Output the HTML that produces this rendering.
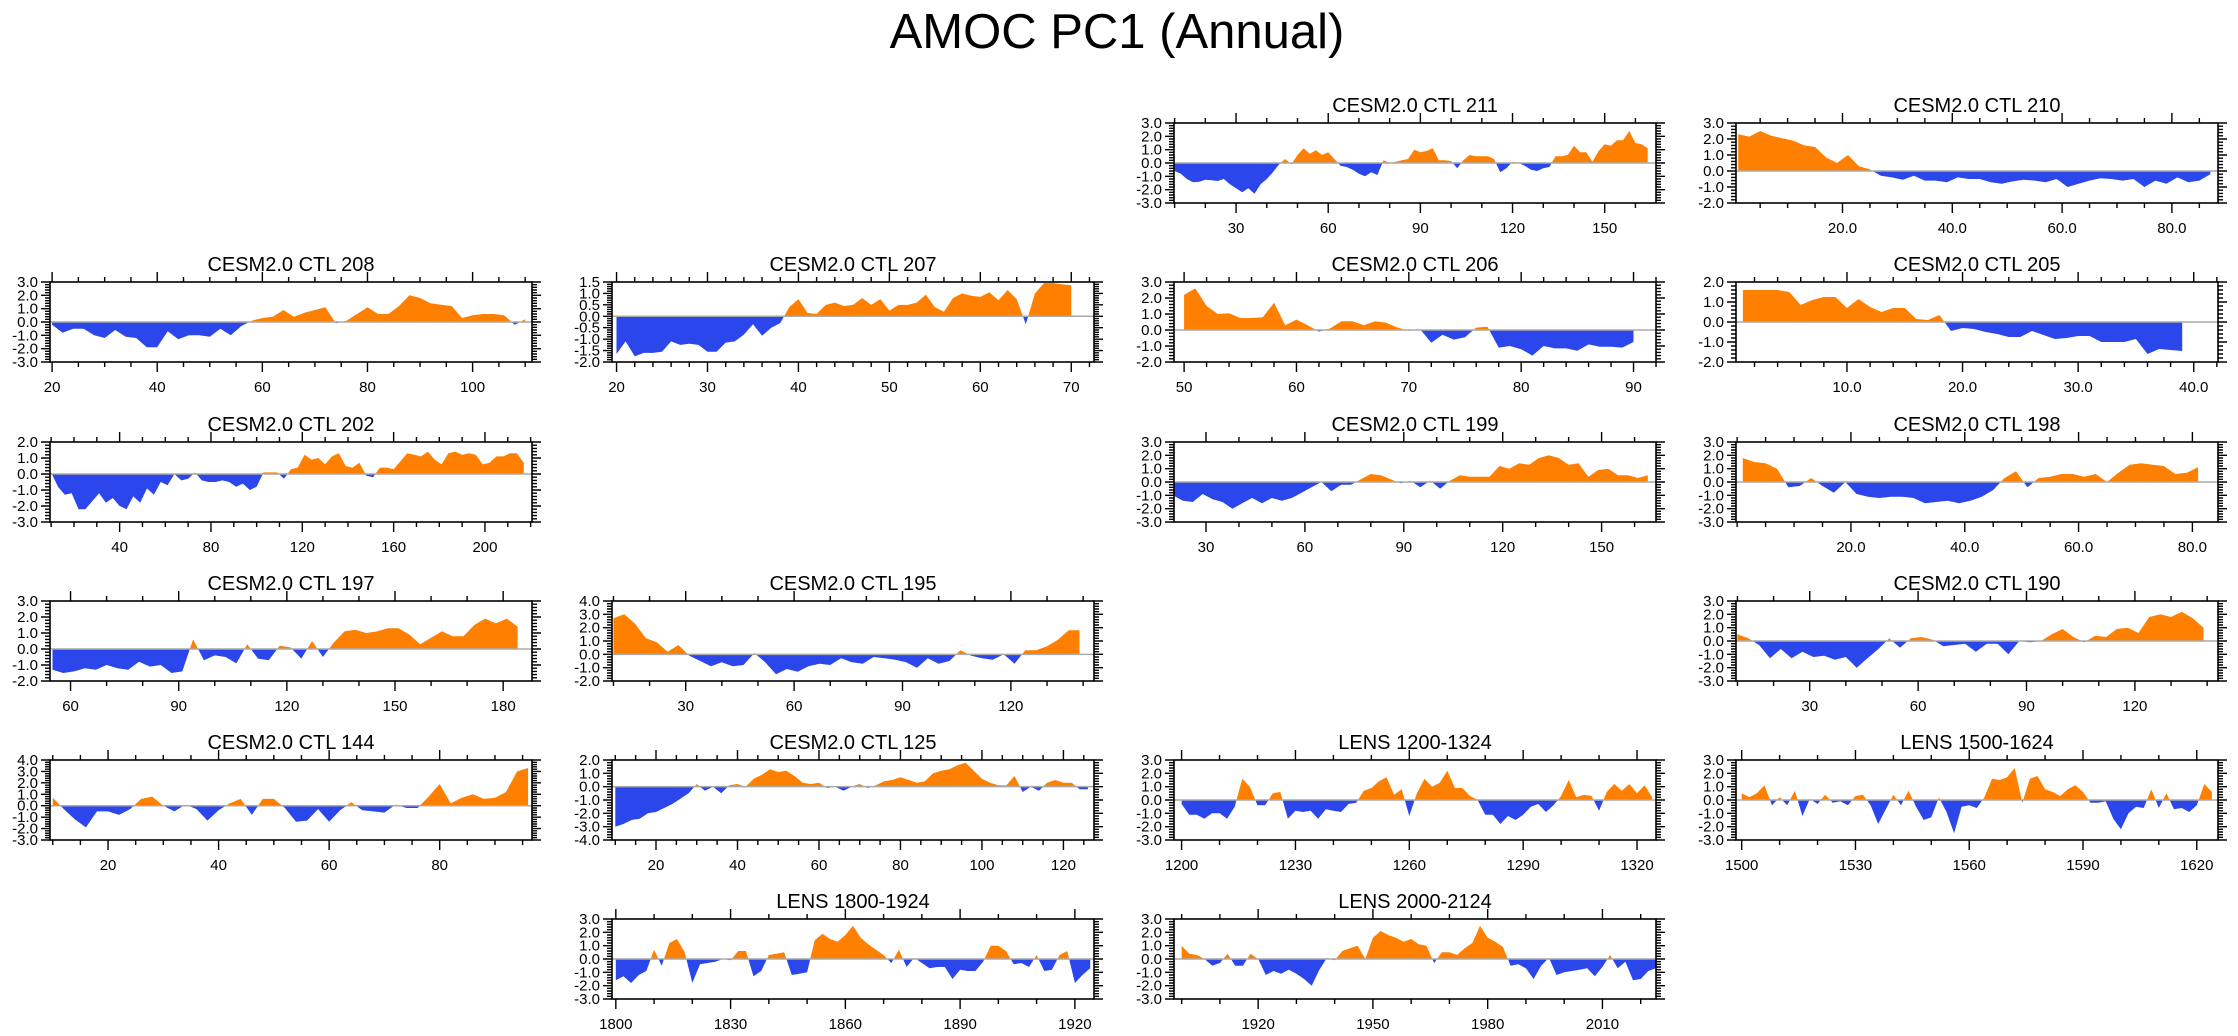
<!DOCTYPE html>
<html><head><meta charset="utf-8"><title>AMOC PC1 (Annual)</title>
<style>
html,body{margin:0;padding:0;background:#fff;}
svg{display:block;font-family:"Liberation Sans",Arial,sans-serif;}
</style></head>
<body>
<svg id="fig" width="2238" height="1036" viewBox="0 0 2238 1036" xmlns="http://www.w3.org/2000/svg">
<text x="1117" y="48" font-size="49" text-anchor="middle" fill="#000">AMOC PC1 (Annual)</text>
</svg>
<script>
const v211=[-0.6,-0.8,-1.2,-1.45,-1.4,-1.25,-1.3,-1.35,-1.2,-1.6,-1.9,-2.2,-1.9,-2.3,-1.6,-1.2,-0.7,-0.1,0.3,-0.1,0.6,1.1,0.7,0.95,0.6,0.8,0.3,-0.2,-0.3,-0.5,-0.8,-1.0,-0.7,-0.9,0.2,0.0,0.1,0.2,0.3,1.0,0.8,0.9,1.1,0.2,0.2,0.15,-0.4,0.2,0.6,0.5,0.5,0.5,0.3,-0.7,-0.4,0.1,0.0,-0.2,-0.5,-0.6,-0.4,-0.3,0.5,0.5,0.6,1.3,0.8,0.8,0.1,0.9,1.4,1.3,1.7,1.7,2.4,1.5,1.4,1.1];
const v210=[2.3,2.15,2.5,2.2,2.05,1.9,1.6,1.5,0.85,0.5,1.0,0.3,0.1,-0.3,-0.4,-0.55,-0.3,-0.6,-0.6,-0.7,-0.4,-0.5,-0.5,-0.7,-0.8,-0.65,-0.55,-0.6,-0.7,-0.5,-1.0,-0.8,-0.6,-0.45,-0.5,-0.6,-0.5,-1.0,-0.6,-0.8,-0.4,-0.7,-0.6,-0.2];
const v208=[-0.2,-0.8,-0.5,-0.5,-1.0,-1.2,-0.6,-1.1,-1.2,-1.9,-1.9,-0.7,-1.3,-1.0,-1.0,-1.1,-0.5,-1.0,-0.3,0.1,0.3,0.4,0.9,0.4,0.7,0.9,1.1,-0.1,0.1,0.6,1.1,0.6,0.6,1.2,2.0,1.8,1.4,1.3,1.2,0.3,0.5,0.6,0.6,0.5,-0.2,0.2];
const v207=[-1.65,-1.1,-1.75,-1.6,-1.6,-1.55,-1.1,-1.25,-1.2,-1.25,-1.55,-1.55,-1.15,-1.1,-0.8,-0.35,-0.85,-0.5,-0.3,0.4,0.75,0.15,0.1,0.5,0.6,0.45,0.5,0.8,0.5,0.75,0.25,0.5,0.5,0.6,0.95,0.4,0.2,0.8,1.0,0.9,0.85,1.05,0.7,1.15,0.75,-0.35,1.0,1.45,1.45,1.4,1.35];
const v206=[2.2,2.6,1.5,1.0,1.05,0.75,0.75,0.8,1.7,0.3,0.65,0.3,-0.1,0.1,0.55,0.55,0.3,0.55,0.45,0.15,-0.05,0.05,-0.8,-0.3,-0.6,-0.45,0.15,0.2,-1.1,-1.0,-1.2,-1.6,-1.0,-1.15,-1.15,-1.3,-0.9,-1.05,-1.05,-1.1,-0.75];
const v205=[1.6,1.6,1.6,1.6,1.5,0.85,1.1,1.25,1.25,0.7,1.15,0.75,0.5,0.7,0.7,0.15,0.1,0.35,-0.45,-0.3,-0.35,-0.5,-0.6,-0.75,-0.75,-0.45,-0.65,-0.85,-0.8,-0.7,-0.7,-1.0,-1.0,-1.0,-0.85,-1.6,-1.35,-1.4,-1.45];
const v202=[0.1,-0.8,-1.3,-1.2,-2.2,-2.2,-1.7,-1.2,-1.8,-1.5,-2.0,-2.2,-1.4,-1.8,-0.9,-1.3,-0.5,-0.7,0.0,-0.4,-0.3,0.1,-0.4,-0.5,-0.5,-0.4,-0.5,-0.8,-0.6,-1.0,-0.8,0.1,0.1,0.1,-0.3,0.3,0.4,1.2,0.9,1.0,0.6,1.1,1.3,0.5,0.4,0.7,-0.1,-0.2,0.4,0.4,0.3,0.8,1.3,1.2,1.1,1.4,0.9,0.6,1.3,1.4,1.2,1.3,1.2,0.6,0.7,1.1,1.1,1.3,1.3,0.7];
const v199=[-1.0,-1.4,-1.5,-0.9,-1.3,-1.5,-2.0,-1.6,-1.2,-1.6,-1.2,-1.4,-1.2,-0.8,-0.4,0.0,-0.7,-0.2,-0.2,0.2,0.6,0.5,0.2,-0.1,0.1,-0.4,0.1,-0.5,0.1,0.5,0.4,0.4,0.4,1.2,1.0,1.4,1.3,1.8,2.0,1.8,1.3,1.4,0.4,0.9,1.0,0.5,0.5,0.3,0.5];
const v198=[1.8,1.5,1.4,1.0,-0.4,-0.3,0.3,-0.3,-0.8,0.0,-0.9,-1.1,-1.2,-1.1,-1.1,-1.2,-1.6,-1.5,-1.4,-1.6,-1.4,-1.1,-0.6,0.3,0.8,-0.4,0.3,0.4,0.6,0.6,0.4,0.6,0.0,0.7,1.3,1.4,1.3,1.2,0.6,0.7,1.1];
const v197=[-1.3,-1.5,-1.4,-1.2,-1.3,-1.0,-1.2,-1.3,-0.8,-1.1,-1.0,-1.5,-1.4,0.6,-0.7,-0.4,-0.5,-0.9,0.3,-0.6,-0.7,0.2,0.1,-0.6,0.5,-0.5,0.4,1.1,1.2,1.0,1.1,1.3,1.3,0.9,0.3,0.7,1.1,0.8,0.8,1.5,1.9,1.6,1.9,1.4];
const v195=[2.7,3.0,2.3,1.2,0.9,0.2,0.7,-0.1,-0.5,-0.9,-0.6,-0.9,-0.8,0.1,-0.6,-1.5,-1.1,-1.3,-0.9,-0.7,-0.8,-0.3,-0.6,-0.7,-0.2,-0.3,-0.4,-0.6,-1.0,-0.3,-0.7,-0.5,0.3,-0.1,-0.3,-0.4,0.0,-0.7,0.3,0.3,0.6,1.1,1.8,1.8];
const v190=[0.5,0.2,-0.3,-1.3,-0.6,-1.3,-0.8,-1.2,-1.1,-1.4,-1.2,-2.0,-1.3,-0.6,0.2,-0.5,0.2,0.3,0.1,-0.4,-0.3,-0.2,-0.8,-0.2,-0.2,-1.0,0.0,-0.1,0.0,0.5,0.9,0.3,-0.1,0.4,0.3,0.9,1.0,0.6,1.8,2.0,1.8,2.2,1.7,1.0];
const v144=[0.7,-0.3,-1.2,-1.9,-0.5,-0.5,-0.8,-0.3,0.6,0.8,0.0,-0.5,0.1,-0.3,-1.3,-0.4,0.2,0.6,-0.8,0.6,0.6,-0.2,-1.4,-1.3,-0.3,-1.4,-0.4,0.3,-0.4,-0.5,-0.6,0.1,-0.2,-0.2,0.8,1.9,0.2,0.7,1.0,0.6,0.7,1.2,3.0,3.3];
const v125=[-3.0,-2.8,-2.5,-2.4,-2.0,-1.9,-1.6,-1.3,-0.9,-0.5,0.2,-0.3,0.0,-0.5,0.1,0.2,0.0,0.6,0.9,1.3,1.1,1.2,0.8,0.3,0.2,0.3,-0.1,0.0,-0.3,0.0,0.2,-0.1,0.1,0.4,0.5,0.7,0.5,0.3,0.4,1.0,1.2,1.3,1.6,1.8,1.2,0.6,0.3,0.1,0.1,0.8,-0.4,0.0,-0.3,0.3,0.5,0.3,0.3,-0.2,-0.2];
const vL1200=[-0.3,-1.1,-1.1,-1.4,-1.0,-1.0,-1.4,-0.5,1.6,1.0,-0.4,-0.4,0.5,0.6,-1.4,-0.8,-0.9,-0.8,-1.4,-0.7,-0.8,-0.9,-0.3,-0.2,0.7,0.9,1.4,1.7,0.4,0.8,-1.2,0.5,1.6,1.0,1.3,2.2,0.9,0.9,0.3,0.0,-1.1,-1.1,-1.8,-1.2,-1.5,-1.1,-0.5,-0.3,-0.9,-0.4,0.3,1.5,0.2,0.4,0.3,-0.8,0.6,1.2,0.7,1.2,0.5,1.1,0.2];
const vL1500=[0.5,0.2,0.5,1.1,-0.4,0.2,-0.4,0.7,-1.2,0.1,-0.3,0.4,-0.2,-0.1,-0.4,0.3,0.4,-0.4,-1.8,-0.7,0.4,-0.4,0.7,-0.5,-1.5,-1.3,0.2,-0.9,-2.5,-0.5,-0.4,-0.6,0.2,1.6,1.5,1.7,2.4,-0.2,1.6,1.8,0.8,0.6,0.3,0.8,1.1,0.6,-0.2,-0.2,-0.1,-1.4,-2.2,-1.0,-0.5,-0.6,0.8,-0.6,0.5,-0.7,-0.6,-0.9,-0.4,1.2,0.6];
const vL1800=[-1.6,-1.3,-1.8,-1.2,-0.9,0.7,-0.5,1.2,1.5,0.5,-1.8,-0.4,-0.3,-0.2,0.0,-0.1,0.6,0.6,-1.3,-0.9,0.3,0.4,0.5,-1.2,-1.1,-1.0,1.4,1.9,1.5,1.3,1.8,2.5,1.6,1.1,0.7,0.3,-0.3,0.7,-0.6,0.1,-0.3,-0.7,-0.6,-0.6,-1.5,-0.8,-0.9,-0.9,-0.2,1.0,1.0,0.6,-0.4,-0.3,-0.6,0.3,-0.9,-0.8,0.3,0.6,-1.8,-1.2,-0.7];
const vL2000=[1.0,0.4,0.3,0.0,-0.5,-0.3,0.4,-0.5,-0.5,0.4,0.0,-1.2,-0.9,-1.1,-0.8,-1.1,-1.5,-2.0,-0.8,0.1,-0.1,0.6,0.8,1.0,0.0,1.6,2.1,1.8,1.6,1.3,1.5,1.1,1.0,-0.3,0.5,0.5,0.3,0.8,1.2,2.5,1.6,1.3,0.9,-0.5,-0.4,-0.7,-1.5,-0.5,0.1,-1.2,-1.0,-0.9,-0.8,-0.7,-1.3,-0.6,0.3,-0.7,-0.2,-1.6,-1.5,-0.9,-0.7];

const panels=[
 {key:'211',title:'CESM2.0 CTL 211',col:2,row:0,xr:[9.8,166.7],xt:[30,60,90,120,150],xd:0,xm:10,yr:[-3,3],ys:1,start:10,step:2,vals:v211},
 {key:'210',title:'CESM2.0 CTL 210',col:3,row:0,xr:[0.6,88.4],xt:[20,40,60,80],xd:1,xm:5,yr:[-2,3],ys:1,start:1,step:2,vals:v210},
 {key:'208',title:'CESM2.0 CTL 208',col:0,row:1,xr:[19.6,111.3],xt:[20,40,60,80,100],xd:0,xm:5,yr:[-3,3],ys:1,start:20,step:2,vals:v208},
 {key:'207',title:'CESM2.0 CTL 207',col:1,row:1,xr:[19.5,72.5],xt:[20,30,40,50,60,70],xd:0,xm:2,yr:[-2,1.5],ys:0.5,start:20,step:1,vals:v207},
 {key:'206',title:'CESM2.0 CTL 206',col:2,row:1,xr:[49.1,92],xt:[50,60,70,80,90],xd:0,xm:2,yr:[-2,3],ys:1,start:50,step:1,vals:v206},
 {key:'205',title:'CESM2.0 CTL 205',col:3,row:1,xr:[0.4,42.1],xt:[10,20,30,40],xd:1,xm:2,yr:[-2,2],ys:1,start:1,step:1,vals:v205},
 {key:'202',title:'CESM2.0 CTL 202',col:0,row:2,xr:[9.5,220.6],xt:[40,80,120,160,200],xd:0,xm:10,yr:[-3,2],ys:1,start:10,step:3,vals:v202},
 {key:'199',title:'CESM2.0 CTL 199',col:2,row:2,xr:[20.3,166.5],xt:[30,60,90,120,150],xd:0,xm:10,yr:[-3,3],ys:1,start:20,step:3,vals:v199},
 {key:'198',title:'CESM2.0 CTL 198',col:3,row:2,xr:[-0.2,84.5],xt:[20,40,60,80],xd:1,xm:5,yr:[-3,3],ys:1,start:1,step:2,vals:v198},
 {key:'197',title:'CESM2.0 CTL 197',col:0,row:3,xr:[54.3,188],xt:[60,90,120,150,180],xd:0,xm:10,yr:[-2,3],ys:1,start:55,step:3,vals:v197},
 {key:'195',title:'CESM2.0 CTL 195',col:1,row:3,xr:[9.6,143],xt:[30,60,90,120],xd:0,xm:10,yr:[-2,4],ys:1,start:10,step:3,vals:v195},
 {key:'190',title:'CESM2.0 CTL 190',col:3,row:3,xr:[9.6,143],xt:[30,60,90,120],xd:0,xm:10,yr:[-3,3],ys:1,start:10,step:3,vals:v190},
 {key:'144',title:'CESM2.0 CTL 144',col:0,row:4,xr:[9.5,96.7],xt:[20,40,60,80],xd:0,xm:5,yr:[-3,4],ys:1,start:10,step:2,vals:v144},
 {key:'125',title:'CESM2.0 CTL 125',col:1,row:4,xr:[9.2,127.5],xt:[20,40,60,80,100,120],xd:0,xm:5,yr:[-4,2],ys:1,start:10,step:2,vals:v125},
 {key:'l1200',title:'LENS 1200-1324',col:2,row:4,xr:[1198,1325],xt:[1200,1230,1260,1290,1320],xd:0,xm:10,yr:[-3,3],ys:1,start:1200,step:2,vals:vL1200},
 {key:'l1500',title:'LENS 1500-1624',col:3,row:4,xr:[1498.5,1625.6],xt:[1500,1530,1560,1590,1620],xd:0,xm:10,yr:[-3,3],ys:1,start:1500,step:2,vals:vL1500},
 {key:'l1800',title:'LENS 1800-1924',col:1,row:5,xr:[1799,1925],xt:[1800,1830,1860,1890,1920],xd:0,xm:10,yr:[-3,3],ys:1,start:1800,step:2,vals:vL1800},
 {key:'l2000',title:'LENS 2000-2124',col:2,row:5,xr:[1898,2024],xt:[1920,1950,1980,2010],xd:0,xm:10,yr:[-3,3],ys:1,start:1900,step:2,vals:vL2000}
];

const NS='http://www.w3.org/2000/svg';
const COLX=[50,612,1174,1736], ROWY=[123,282,442,601,760,919], W=482, H=80;
const svg=document.getElementById('fig');
function mk(tag,attrs,parent){const e=document.createElementNS(NS,tag);for(const k in attrs)e.setAttribute(k,attrs[k]);parent.appendChild(e);return e;}

panels.forEach(p=>{
  const x0=COLX[p.col], y0=ROWY[p.row];
  const sx=v=>x0+(v-p.xr[0])/(p.xr[1]-p.xr[0])*W;
  const sy=v=>y0+(p.yr[1]-v)/(p.yr[1]-p.yr[0])*H;
  const g=mk('g',{},svg);
  
  
  const t=mk('text',{x:x0+W/2,y:y0-11,'font-size':20,'text-anchor':'middle',fill:'#000'},g);
  t.textContent=p.title;
  
  
  const zy=sy(0);
  let pts=sx(p.start).toFixed(1)+','+zy.toFixed(1)+' ';
  p.vals.forEach((v,i)=>{pts+=sx(p.start+i*p.step).toFixed(1)+','+sy(v).toFixed(1)+' ';});
  pts+=sx(p.start+(p.vals.length-1)*p.step).toFixed(1)+','+zy.toFixed(1);
  const cidA='ca'+p.key, cidB='cb'+p.key;
  const defs=mk('defs',{},g);
  const ca=mk('clipPath',{id:cidA},defs); mk('rect',{x:x0,y:y0,width:W,height:zy-y0},ca);
  const cb=mk('clipPath',{id:cidB},defs); mk('rect',{x:x0,y:zy,width:W,height:y0+H-zy},cb);
  const pos=mk('polygon',{points:pts,fill:'#FF8000','clip-path':'url(#'+cidA+')'},g);
  
  
  const neg=mk('polygon',{points:pts,fill:'#2B46EB','clip-path':'url(#'+cidB+')'},g);
  
  
  const zl=mk('line',{x1:x0,x2:x0+W,y1:zy,y2:zy,stroke:'#aaaaaa','stroke-width':1.5},g);
  
  
  const fr=mk('rect',{x:x0,y:y0,width:W,height:H,fill:'none',stroke:'#000','stroke-width':1.6},g);
  
  
  let d='';
  const nY=Math.round((p.yr[1]-p.yr[0])/p.ys);
  for(let i=0;i<=nY;i++){
    const v=p.yr[0]+i*p.ys, y=sy(v);
    d+=`M${x0},${y}h-9M${x0+W},${y}h9`;
    const lb=mk('text',{x:x0-12,y:y+5,'font-size':15,'text-anchor':'end',fill:'#000'},g);
    lb.textContent=v.toFixed(1);
    
    
    if(i<nY){for(let j=1;j<5;j++){const ym=sy(v+j*p.ys/5);d+=`M${x0},${ym}h-5M${x0+W},${ym}h5`;}}
  }
  const xs=Math.ceil(p.xr[0]/p.xm-1e-6);
  for(let k=xs;k*p.xm<=p.xr[1]+1e-6;k++){
    const v=k*p.xm, x=sx(v);
    const major=p.xt.some(m=>Math.abs(m-v)<1e-6);
    const L=major?10:5;
    d+=`M${x},${y0}v-${L}M${x},${y0+H}v${L}`;
  }
  p.xt.forEach(v=>{
    const lb=mk('text',{x:sx(v),y:y0+H+30,'font-size':15,'text-anchor':'middle',fill:'#000'},g);
    lb.textContent=v.toFixed(p.xd);
    
    
  });
  const tk=mk('path',{d:d,stroke:'#000','stroke-width':1.4,fill:'none'},g);
  
  
});
</script>
</body></html>
